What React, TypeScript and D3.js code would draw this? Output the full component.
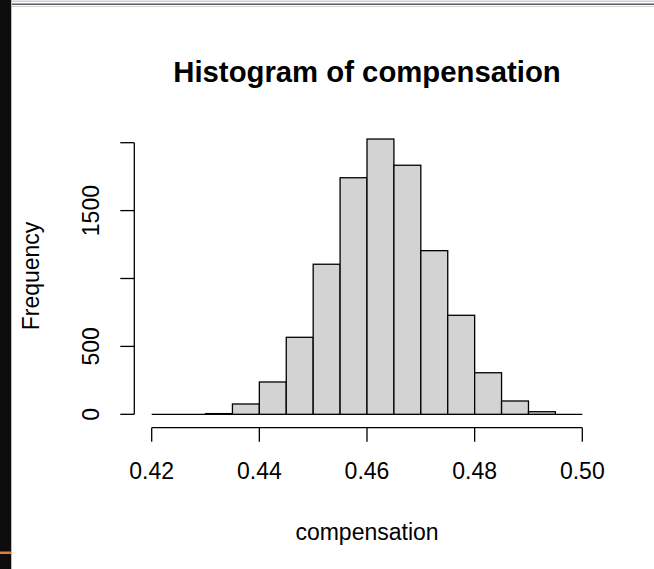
import { useEffect, useRef } from 'react';
import * as d3 from 'd3';

// histogram bins (breaks) and counts
const breaks = [0.42, 0.425, 0.43, 0.435, 0.44, 0.445, 0.45, 0.455, 0.46, 0.465, 0.47, 0.475, 0.48, 0.485, 0.49, 0.495, 0.5];
const counts = [0, 0, 5, 76, 238, 567, 1105, 1742, 2027, 1834, 1205, 729, 306, 98, 19, 0];

const xTicks = [0.42, 0.44, 0.46, 0.48, 0.5];
const xTickLabels = ['0.42', '0.44', '0.46', '0.48', '0.50'];
const yTicks = [0, 500, 1000, 1500, 2000];
// R drops the labels that would overlap
const yTickLabels = ['0', '500', '', '1500', ''];

const title = 'Histogram of compensation';
const xLabel = 'compensation';
const yLabel = 'Frequency';

const FONT = '"Liberation Sans", Arial, Helvetica, sans-serif';

export default function App() {
  const svgRef = useRef<SVGSVGElement>(null);

  useEffect(() => {
    if (!svgRef.current) return;
    const svg = d3.select(svgRef.current);
    svg.selectAll('*').remove();

    const width = 654;
    const height = 569;

    const x = d3.scaleLinear().domain([0.42, 0.5]).range([151.7, 582.3]);
    const y = d3.scaleLinear().domain([0, 2000]).range([414.3, 142.7]);

    svg.append('rect').attr('width', width).attr('height', height).attr('fill', '#ffffff');

    // screenshot frame bits
    svg.append('rect').attr('x', 0).attr('y', 0).attr('width', 11).attr('height', height).attr('fill', '#0d0d0d');
    svg.append('rect').attr('x', 11).attr('y', 0).attr('width', 1).attr('height', height).attr('fill', '#bdbdbd');
    svg.append('rect').attr('x', 12).attr('y', 0.5).attr('width', width - 12).attr('height', 1.5).attr('fill', '#c9cde2');
    svg.append('rect').attr('x', 12).attr('y', 3.5).attr('width', width - 12).attr('height', 1.5).attr('fill', '#5a5a5a');
    svg.append('rect').attr('x', 12).attr('y', 6).attr('width', width - 12).attr('height', 1).attr('fill', '#d0d0d0');
    svg.append('rect').attr('x', 0).attr('y', 551.5).attr('width', 11).attr('height', 2.5).attr('fill', '#e57a32');

    const bins = counts.map((c, i) => ({ x0: breaks[i], x1: breaks[i + 1], count: c }));

    // baseline drawn by the zero-height rects
    svg.append('line')
      .attr('x1', x(breaks[0]))
      .attr('x2', x(breaks[breaks.length - 1]))
      .attr('y1', y(0))
      .attr('y2', y(0))
      .attr('stroke', '#000')
      .attr('stroke-width', 1.3);

    svg.selectAll('rect.bar')
      .data(bins.filter(d => d.count > 0))
      .enter()
      .append('rect')
      .attr('class', 'bar')
      .attr('x', d => x(d.x0))
      .attr('y', d => y(d.count))
      .attr('width', d => x(d.x1) - x(d.x0))
      .attr('height', d => y(0) - y(d.count))
      .attr('fill', '#d3d3d3')
      .attr('stroke', '#000')
      .attr('stroke-width', 1.3);

    const axisColor = '#000';
    const tickLen = 14;

    // x axis
    const axisY = 427.7;
    svg.append('line')
      .attr('x1', x(xTicks[0])).attr('x2', x(xTicks[xTicks.length - 1]))
      .attr('y1', axisY).attr('y2', axisY)
      .attr('stroke', axisColor).attr('stroke-width', 1.3);
    xTicks.forEach((t, i) => {
      svg.append('line')
        .attr('x1', x(t)).attr('x2', x(t))
        .attr('y1', axisY).attr('y2', axisY + tickLen)
        .attr('stroke', axisColor).attr('stroke-width', 1.3);
      svg.append('text')
        .attr('x', x(t))
        .attr('y', 479)
        .attr('text-anchor', 'middle')
        .style('font-family', FONT)
        .style('font-size', '23px')
        .attr('fill', '#000')
        .text(xTickLabels[i]);
    });

    // y axis
    const axisX = 134.3;
    svg.append('line')
      .attr('x1', axisX).attr('x2', axisX)
      .attr('y1', y(yTicks[0])).attr('y2', y(yTicks[yTicks.length - 1]))
      .attr('stroke', axisColor).attr('stroke-width', 1.3);
    yTicks.forEach((t, i) => {
      svg.append('line')
        .attr('x1', axisX - tickLen).attr('x2', axisX)
        .attr('y1', y(t)).attr('y2', y(t))
        .attr('stroke', axisColor).attr('stroke-width', 1.3);
      if (yTickLabels[i]) {
        svg.append('text')
          .attr('transform', `translate(99,${y(t)}) rotate(-90)`)
          .attr('text-anchor', 'middle')
          .style('font-family', FONT)
          .style('font-size', '23px')
          .attr('fill', '#000')
          .text(yTickLabels[i]);
      }
    });

    const midX = (x(0.42) + x(0.5)) / 2;

    // title and axis labels
    svg.append('text')
      .attr('x', midX)
      .attr('y', 82)
      .attr('text-anchor', 'middle')
      .style('font-family', FONT)
      .style('font-size', '29.3px')
      .style('font-weight', 'bold')
      .attr('fill', '#000')
      .text(title);

    svg.append('text')
      .attr('x', midX)
      .attr('y', 540)
      .attr('text-anchor', 'middle')
      .style('font-family', FONT)
      .style('font-size', '23px')
      .attr('fill', '#000')
      .text(xLabel);

    svg.append('text')
      .attr('transform', `translate(39,276) rotate(-90)`)
      .attr('text-anchor', 'middle')
      .style('font-family', FONT)
      .style('font-size', '23px')
      .attr('fill', '#000')
      .text(yLabel);
  }, []);

  return (
    <svg
      ref={svgRef}
      width={654}
      height={569}
      style={{ position: 'absolute', left: 0, top: 0, display: 'block' }}
    />
  );
}
